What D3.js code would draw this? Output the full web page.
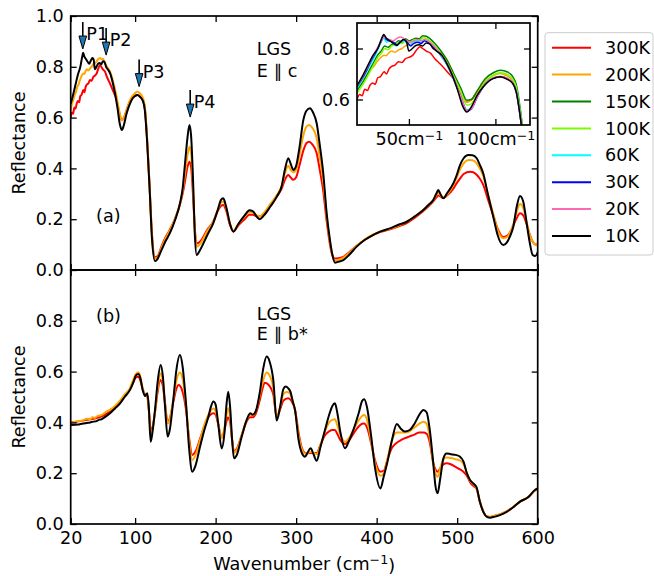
<!DOCTYPE html>
<html>
<head>
<meta charset="utf-8">
<script src="https://cdn.jsdelivr.net/npm/d3@7"></script>
<style>
  body { margin: 0; background: #fff; }
  text { font-family: "DejaVu Sans", sans-serif; fill: #000; }
</style>
</head>
<body>
<svg id="chart" width="654" height="576"></svg>
<script>
// ---- series labels and colours ----
const temps  = ["300K", "200K", "150K", "100K", "60K", "30K", "20K", "10K"];
const colors = ["#ff0000", "#ffa500", "#008000", "#7cfc00", "#00ffff", "#0000ff", "#ff69b4", "#000000"];

// ---- tick values ----
const xTicks = [20, 100, 200, 300, 400, 500, 600];
const yTicksTop = [0, 0.2, 0.4, 0.6, 0.8, 1.0];
const yTicksBot = [0, 0.2, 0.4, 0.6, 0.8];
const insetXTicks = [50, 100];
const insetYTicks = [0.6, 0.8];

// ---- phonon markers, panel (a) ----
const peakNames = ["P1", "P2", "P3", "P4"];
const peakWave  = [35, 64, 105, 168.4];
const peakTip   = [0.87, 0.846, 0.722, 0.602];

// ---- panel (a): E || c, [wavenumber, reflectance] ----
const c300 = [[20,0.60],[21.5,0.62],[23,0.615],[24.5,0.64],[26,0.635],[27.5,0.656],[29,0.665],[30.5,0.66],[32,0.685],[33.5,0.69],[35.7,0.709],[37,0.70],[38.5,0.72],[40,0.73],[42,0.735],[44,0.748],[46,0.745],[48,0.76],[50,0.765],[52.3,0.774],[54,0.79],[56.4,0.807],[58,0.80],[60,0.79],[62.6,0.781],[65,0.76],[68,0.74],[72,0.71],[77,0.669],[80,0.625],[83.3,0.59],[86,0.598],[89.5,0.63],[93.6,0.665],[98,0.682],[102.8,0.689],[106,0.683],[110,0.665],[112,0.64],[115,0.51],[118,0.33],[121,0.14],[124.7,0.05],[128,0.055],[133,0.095],[138,0.13],[143,0.158],[150,0.205],[155.7,0.258],[159,0.3],[162,0.35],[165,0.405],[167.5,0.426],[169.5,0.405],[172,0.29],[174,0.17],[177,0.105],[180,0.11],[190,0.16],[197,0.19],[203,0.235],[206.5,0.252],[209.5,0.256],[213,0.235],[218,0.175],[222,0.152],[228,0.175],[236,0.2],[242,0.218],[246,0.218],[251,0.212],[255,0.212],[260,0.222],[268,0.255],[276,0.29],[282,0.32],[286,0.355],[290.3,0.374],[293,0.365],[296.5,0.355],[300,0.365],[304,0.41],[308.9,0.47],[313,0.5],[316,0.505],[320,0.495],[325.5,0.46],[329,0.4],[333.7,0.31],[338,0.19],[342,0.1],[345,0.058],[348.2,0.045],[352,0.046],[358.6,0.052],[366,0.07],[375.2,0.095],[385,0.118],[395.8,0.138],[405,0.15],[416.5,0.16],[427,0.172],[437.3,0.185],[447,0.205],[457.9,0.232],[464,0.25],[470.3,0.27],[474,0.285],[476.5,0.293],[479,0.29],[482.7,0.283],[488,0.295],[495.2,0.32],[499,0.34],[503.5,0.36],[508,0.378],[516,0.387],[520,0.385],[524.2,0.375],[528,0.36],[532.4,0.335],[538,0.28],[544.8,0.215],[550,0.165],[557.3,0.13],[562,0.135],[566,0.15],[569.7,0.175],[574,0.205],[578,0.223],[582,0.215],[586.3,0.18],[590,0.14],[594,0.11],[597,0.1],[600,0.1]];

const c200 = [[20,0.63],[22,0.66],[23.5,0.672],[25,0.69],[26.5,0.70],[28,0.72],[29.5,0.728],[31.6,0.748],[33,0.76],[35.7,0.774],[37,0.772],[38,0.78],[40,0.79],[42,0.785],[44,0.794],[46,0.80],[48,0.81],[50,0.814],[52,0.82],[54,0.83],[56.4,0.835],[58,0.83],[60,0.832],[62,0.82],[65,0.80],[68.8,0.781],[72,0.75],[77,0.682],[80,0.63],[83.3,0.59],[86,0.598],[89.5,0.63],[93.6,0.669],[98,0.69],[102.8,0.702],[106,0.695],[110,0.675],[112,0.645],[115,0.51],[118,0.33],[121,0.13],[124.7,0.045],[128,0.05],[133,0.09],[138,0.125],[143,0.155],[150,0.205],[155.7,0.262],[159,0.31],[162,0.38],[165,0.45],[167.5,0.485],[169.5,0.46],[172,0.32],[174,0.17],[176.5,0.092],[180,0.1],[190,0.155],[197,0.19],[203,0.24],[206.5,0.265],[209.5,0.27],[213,0.245],[218,0.18],[222,0.155],[228,0.18],[236,0.21],[242,0.228],[246,0.226],[251,0.215],[255,0.212],[260,0.225],[268,0.26],[276,0.295],[282,0.33],[286,0.38],[290.3,0.41],[293,0.395],[296.5,0.385],[300,0.395],[304,0.45],[308.9,0.53],[313,0.565],[316,0.571],[320,0.56],[325.5,0.52],[329,0.45],[333.7,0.35],[338,0.21],[342,0.11],[345,0.06],[348.2,0.038],[352,0.04],[358.6,0.048],[366,0.068],[375.2,0.095],[385,0.12],[395.8,0.14],[405,0.152],[416.5,0.162],[427,0.175],[437.3,0.19],[447,0.21],[457.9,0.236],[464,0.255],[470.3,0.275],[474,0.295],[476.5,0.305],[479,0.295],[482.7,0.285],[488,0.3],[495.2,0.335],[499,0.36],[503.5,0.395],[508,0.42],[514,0.433],[519,0.432],[524.2,0.42],[528,0.4],[532.4,0.37],[538,0.3],[544.8,0.22],[550,0.16],[557.3,0.125],[562,0.13],[566,0.15],[569.7,0.18],[574,0.23],[578,0.26],[582,0.245],[586.3,0.19],[590,0.14],[594,0.11],[597,0.1],[600,0.105]];

const c10 = [[20,0.655],[23,0.69],[26,0.73],[29,0.77],[32,0.80],[34,0.835],[35.5,0.855],[37,0.84],[39,0.83],[41,0.82],[43,0.812],[45,0.825],[47,0.835],[48.5,0.828],[50,0.79],[52,0.80],[54,0.812],[56,0.815],[58,0.81],[60,0.822],[62,0.818],[64,0.80],[66,0.79],[69,0.774],[72,0.74],[75,0.696],[78,0.64],[81,0.575],[83.5,0.551],[86,0.57],[89.5,0.617],[93,0.65],[97,0.676],[100,0.685],[103,0.689],[106,0.682],[110,0.663],[112,0.63],[115,0.50],[118,0.32],[121,0.12],[124.7,0.035],[127,0.04],[133,0.08],[138,0.115],[143,0.144],[150,0.2],[155.7,0.262],[159,0.32],[162,0.42],[165,0.52],[167.5,0.571],[169.5,0.53],[172,0.35],[174,0.15],[176.5,0.059],[180,0.075],[190,0.14],[197,0.184],[203,0.24],[206.5,0.275],[209.5,0.282],[213,0.25],[218,0.18],[222,0.151],[228,0.18],[236,0.215],[242,0.235],[246,0.232],[251,0.21],[255,0.2],[260,0.215],[268,0.25],[276,0.289],[282,0.33],[286,0.395],[290.3,0.44],[293,0.42],[296.5,0.394],[300,0.41],[304,0.48],[308.9,0.59],[313,0.628],[317.2,0.637],[321,0.62],[325.5,0.578],[329,0.5],[333.7,0.38],[338,0.22],[342,0.118],[345,0.06],[348.2,0.029],[352,0.032],[358.6,0.039],[366,0.06],[375.2,0.092],[385,0.118],[395.8,0.138],[405,0.152],[416.5,0.164],[427,0.178],[437.3,0.19],[447,0.21],[457.9,0.236],[464,0.255],[470.3,0.276],[474,0.3],[476.5,0.315],[479,0.3],[482.7,0.282],[488,0.305],[495.2,0.341],[499,0.37],[503.5,0.413],[508,0.44],[513.8,0.453],[519,0.452],[524.2,0.44],[528,0.415],[532.4,0.38],[538,0.3],[544.8,0.21],[550,0.14],[557.3,0.098],[562,0.11],[566,0.135],[569.7,0.17],[574,0.25],[578,0.291],[582,0.27],[586.3,0.184],[590,0.11],[593.8,0.059],[597,0.055],[600,0.07]];

// ---- intermediate temperatures, far-IR range (inset) ----
const c150 = [[20,0.635],[22,0.655],[24,0.675],[26,0.7],[28,0.725],[30,0.75],[32,0.775],[34,0.79],[36,0.81],[38,0.805],[40,0.815],[42,0.82],[44,0.83],[46,0.825],[48,0.838],[50,0.83],[52,0.835],[54,0.84],[56,0.838],[58,0.85],[60,0.848],[62,0.84],[65,0.82],[68,0.795],[72,0.755],[76,0.7],[80,0.645],[83.5,0.597],[86,0.6],[89.5,0.635],[94,0.68],[99,0.706],[103,0.715],[107,0.708],[110,0.69],[112,0.66],[115,0.53],[118,0.34],[120,0.2]];
const c100 = [[20,0.625],[22,0.645],[24,0.665],[26,0.69],[28,0.715],[30,0.74],[32,0.765],[34,0.78],[36,0.8],[38,0.795],[40,0.81],[42,0.815],[44,0.825],[46,0.82],[48,0.83],[50,0.822],[52,0.83],[54,0.835],[56,0.83],[58,0.842],[60,0.84],[62,0.83],[65,0.81],[68,0.785],[72,0.745],[76,0.69],[80,0.63],[83.5,0.578],[86,0.583],[89.5,0.62],[94,0.668],[99,0.697],[103,0.705],[107,0.698],[110,0.68],[112,0.65],[115,0.52],[118,0.34],[120,0.2]];
const c60 = [[20,0.645],[22,0.665],[24,0.69],[26,0.715],[28,0.74],[30,0.765],[32,0.795],[34,0.825],[35.5,0.84],[37,0.825],[39,0.83],[41,0.82],[43,0.81],[45,0.825],[47,0.83],[49,0.82],[51,0.815],[53,0.825],[55,0.83],[57,0.825],[59,0.83],[62,0.82],[65,0.8],[68,0.775],[72,0.735],[76,0.675],[80,0.61],[83.5,0.56],[86,0.565],[89.5,0.61],[94,0.66],[99,0.685],[103,0.69],[107,0.683],[110,0.665],[112,0.635],[115,0.505],[118,0.33],[120,0.2]];
const c30 = [[20,0.65],[22,0.672],[24,0.695],[26,0.72],[28,0.75],[30,0.775],[32,0.8],[34,0.83],[35.5,0.85],[37,0.835],[39,0.83],[41,0.825],[43,0.815],[45,0.825],[47,0.835],[49,0.825],[51,0.81],[53,0.82],[55,0.825],[57,0.82],[59,0.83],[62,0.82],[65,0.8],[68,0.778],[72,0.74],[76,0.68],[80,0.61],[83.5,0.555],[86,0.562],[89.5,0.61],[94,0.66],[99,0.684],[103,0.689],[107,0.682],[110,0.664],[112,0.632],[115,0.5],[118,0.33],[120,0.2]];
const c20 = [[20,0.655],[22,0.675],[24,0.7],[26,0.725],[28,0.755],[30,0.78],[32,0.805],[34,0.83],[35.5,0.845],[37,0.84],[39,0.835],[41,0.83],[43,0.84],[45,0.845],[47,0.84],[49,0.83],[51,0.825],[53,0.83],[55,0.835],[57,0.83],[59,0.835],[62,0.825],[65,0.805],[68,0.78],[72,0.74],[76,0.68],[80,0.612],[83.5,0.557],[86,0.563],[89.5,0.61],[94,0.66],[99,0.685],[103,0.69],[107,0.683],[110,0.665],[112,0.633],[115,0.5],[118,0.33],[120,0.2]];

// ---- panel (b): E || b*, [wavenumber, reflectance] ----
const b300 = [[20,0.40],[25,0.402],[30,0.404],[35,0.407],[40,0.41],[45,0.412],[50,0.415],[55,0.42],[60,0.426],[65,0.435],[70,0.445],[75,0.46],[81,0.48],[87,0.505],[93.6,0.53],[98,0.56],[101,0.577],[104,0.58],[106.5,0.565],[109.4,0.53],[112.3,0.51],[115.2,0.5],[117,0.45],[119.3,0.37],[121.5,0.38],[124.7,0.44],[128,0.52],[131,0.567],[134,0.55],[137,0.48],[140.4,0.402],[143,0.415],[147.4,0.48],[151,0.53],[154,0.547],[158,0.53],[163.2,0.45],[167,0.34],[171,0.272],[175,0.285],[180.6,0.335],[186,0.385],[191,0.42],[197.2,0.436],[200,0.43],[203,0.395],[207.5,0.34],[211,0.37],[213.5,0.405],[215,0.419],[218,0.4],[220.5,0.33],[222.8,0.286],[226,0.295],[232.4,0.35],[238,0.4],[243,0.42],[246,0.42],[250,0.435],[255,0.49],[258,0.53],[261,0.556],[265,0.55],[271.6,0.51],[275.8,0.42],[280,0.45],[284,0.485],[290,0.495],[294,0.485],[298.6,0.45],[303,0.36],[307,0.3],[311,0.28],[314,0.278],[318,0.28],[321.5,0.28],[325.5,0.28],[330,0.31],[335.8,0.35],[341,0.365],[345,0.37],[348.2,0.37],[351,0.355],[355,0.33],[360.7,0.315],[366,0.33],[371,0.355],[378,0.385],[382,0.395],[384.6,0.396],[388,0.38],[393,0.32],[398,0.25],[404.7,0.206],[409,0.21],[413,0.25],[419,0.3],[425,0.32],[430,0.33],[435,0.338],[441,0.345],[447,0.352],[453,0.36],[458,0.36],[462,0.355],[466,0.32],[470.3,0.24],[473,0.215],[475.7,0.206],[479,0.22],[483,0.235],[486.8,0.239],[492,0.235],[498,0.225],[503.5,0.215],[508,0.205],[512,0.19],[516,0.165],[520,0.15],[524,0.14],[528,0.09],[532.4,0.05],[537,0.03],[540.8,0.028],[546,0.032],[553,0.038],[561.5,0.05],[570,0.068],[578,0.088],[588,0.105],[596.6,0.132],[600,0.138]];

const b200 = [[20,0.40],[25,0.402],[30,0.405],[35,0.408],[40,0.414],[44,0.412],[47,0.42],[50,0.418],[53,0.425],[57,0.428],[60,0.432],[63,0.44],[66,0.445],[69,0.45],[75,0.465],[81,0.485],[87,0.51],[93.6,0.535],[98,0.57],[101,0.59],[104,0.597],[106.5,0.58],[109.4,0.535],[112.3,0.51],[115.2,0.505],[117,0.45],[119.3,0.357],[121.5,0.37],[124.7,0.44],[128,0.535],[131.7,0.593],[134.5,0.56],[137,0.48],[140.4,0.396],[143,0.41],[147.4,0.49],[151,0.56],[155.7,0.596],[159,0.57],[163.2,0.47],[167,0.33],[171,0.252],[175,0.27],[180.6,0.33],[186,0.39],[191,0.43],[197.2,0.455],[200,0.445],[203,0.4],[207.5,0.337],[211,0.38],[213.5,0.43],[215.7,0.456],[218,0.42],[220.5,0.33],[222.8,0.281],[226,0.29],[232.4,0.35],[238,0.405],[243,0.43],[246,0.428],[250,0.445],[255,0.51],[259,0.565],[263.4,0.596],[267,0.585],[271.6,0.535],[275.8,0.42],[280,0.46],[284,0.51],[288,0.52],[292,0.515],[296,0.48],[298.6,0.45],[303,0.35],[307,0.295],[311,0.278],[314,0.28],[318,0.283],[321.5,0.28],[325.5,0.275],[330,0.31],[335.8,0.365],[341,0.4],[345,0.41],[348.2,0.412],[351,0.39],[355,0.35],[360.7,0.324],[366,0.34],[371,0.37],[378,0.41],[382,0.425],[384.6,0.429],[388,0.41],[393,0.33],[398,0.24],[404.7,0.19],[409,0.2],[413,0.25],[419,0.33],[425,0.36],[430,0.36],[435,0.36],[441,0.365],[447,0.38],[453,0.395],[458,0.403],[462,0.395],[466,0.34],[470.3,0.24],[473,0.2],[475.7,0.186],[479,0.22],[483,0.255],[486.8,0.262],[492,0.26],[498,0.255],[503.5,0.25],[508,0.235],[512,0.2],[516,0.17],[520,0.158],[524,0.14],[528,0.09],[532.4,0.05],[537,0.03],[540.8,0.028],[546,0.032],[553,0.038],[561.5,0.05],[570,0.068],[578,0.088],[588,0.105],[596.6,0.132],[600,0.138]];

const b10 = [[20,0.39],[30,0.392],[40,0.398],[44,0.40],[48,0.403],[52,0.405],[55,0.41],[58,0.412],[62,0.42],[68.8,0.436],[75,0.455],[81.3,0.475],[87,0.5],[93.6,0.528],[98,0.56],[101,0.585],[104,0.591],[106.5,0.575],[109.4,0.528],[112.3,0.504],[115.2,0.515],[117,0.46],[119.3,0.324],[121.5,0.36],[124.7,0.449],[128,0.56],[131.7,0.626],[134.5,0.58],[137,0.47],[140.4,0.344],[143,0.37],[147.4,0.488],[151,0.6],[155.7,0.665],[159,0.62],[163.2,0.475],[167,0.3],[171,0.206],[175,0.23],[180.6,0.304],[186,0.37],[191,0.422],[194,0.46],[197.2,0.482],[200,0.47],[203,0.4],[207.5,0.298],[211,0.36],[213.5,0.47],[215.7,0.521],[218,0.46],[220.5,0.33],[222.8,0.259],[226,0.27],[232.4,0.344],[238,0.405],[243,0.436],[246,0.43],[250,0.445],[255,0.521],[259,0.61],[263.4,0.659],[267,0.64],[271.6,0.567],[275.8,0.407],[280,0.46],[284,0.53],[287,0.541],[290,0.535],[293,0.52],[296,0.48],[298.6,0.449],[303,0.331],[307,0.28],[311,0.265],[314,0.28],[318,0.298],[321.5,0.275],[325.5,0.249],[330,0.3],[335.8,0.37],[341,0.43],[345,0.465],[348.2,0.475],[351,0.44],[355,0.36],[360.7,0.298],[366,0.33],[371,0.37],[378,0.44],[382,0.485],[384.6,0.491],[388,0.46],[393,0.35],[398,0.22],[404.7,0.14],[409,0.19],[413,0.239],[419,0.33],[425,0.394],[430,0.375],[435,0.364],[441,0.37],[447,0.395],[453,0.43],[458,0.449],[462,0.44],[466,0.37],[470.3,0.239],[473,0.15],[475.7,0.121],[479,0.18],[483,0.26],[486.8,0.278],[492,0.275],[498,0.272],[503.5,0.265],[508,0.245],[512,0.2],[516,0.173],[520,0.16],[524,0.145],[528,0.09],[532.4,0.048],[537,0.028],[540.8,0.025],[546,0.028],[553,0.035],[561.5,0.048],[570,0.067],[578,0.088],[588,0.105],[596.6,0.134],[600,0.14]];

// ---- annotations ----
const panelTags = ["(a)", "(b)"];
const sampleName = "LGS";
const polarA = "E ∥ c";
const polarB = "E ∥ b*";

// ---------------------------------------------------------------
const svg = d3.select("#chart");
const FS = 17.6;
const LW = 2;
const L = 70.7, R = 537.7;
const x = d3.scaleLinear().domain([20, 600]).range([L, R]);
const yA = d3.scaleLinear().domain([0, 1]).range([270, 16]);
const yB = d3.scaleLinear().domain([0, 1]).range([524, 270]);

const defs = svg.append("defs");
function clip(id, x0, y0, w, h) {
  defs.append("clipPath").attr("id", id).append("rect")
    .attr("x", x0).attr("y", y0).attr("width", w).attr("height", h);
}
clip("clipA", L, 16, R - L, 254);
clip("clipB", L, 270, R - L, 254);

function lineGen(xs, ys) {
  return d3.line().x(d => xs(d[0])).y(d => ys(d[1])).curve(d3.curveMonotoneX);
}

function styleAxis(g, size) {
  g.select(".domain").remove();
  g.selectAll(".tick line").attr("stroke", "#000").attr("stroke-width", 1.3);
  g.selectAll(".tick text").style("font-size", size + "px").attr("fill", "#000")
    .style("font-family", "DejaVu Sans, sans-serif");
}

function panelAxes(ys, yTicks, yBottom, yTopPx, labelX) {
  const fmt = d3.format(".1f");
  const gl = svg.append("g").attr("transform", `translate(${L},0)`)
    .call(d3.axisLeft(ys).tickValues(yTicks).tickFormat(fmt).tickSize(-6).tickPadding(7));
  styleAxis(gl, FS);
  const gr = svg.append("g").attr("transform", `translate(${R},0)`)
    .call(d3.axisRight(ys).tickValues(yTicks).tickFormat("").tickSize(-6));
  styleAxis(gr, FS);
  const gb = svg.append("g").attr("transform", `translate(0,${yBottom})`)
    .call(d3.axisBottom(x).tickValues(xTicks).tickFormat(labelX ? d3.format("d") : "").tickSize(-6).tickPadding(8));
  styleAxis(gb, FS);
  const gt = svg.append("g").attr("transform", `translate(0,${yTopPx})`)
    .call(d3.axisTop(x).tickValues(xTicks).tickFormat("").tickSize(-6));
  styleAxis(gt, FS);
  svg.append("rect").attr("x", L).attr("y", yTopPx).attr("width", R - L).attr("height", yBottom - yTopPx)
    .attr("fill", "none").attr("stroke", "#000").attr("stroke-width", 1.7);
}

// ---- panel (a) curves ----
const gA = svg.append("g").attr("clip-path", "url(#clipA)");
[[c300, 0], [c200, 1], [c10, 7]].forEach(([d, i]) => {
  gA.append("path").datum(d).attr("d", lineGen(x, yA))
    .attr("fill", "none").attr("stroke", colors[i]).attr("stroke-width", LW).attr("stroke-linejoin", "round");
});

// ---- panel (b) curves ----
const gB = svg.append("g").attr("clip-path", "url(#clipB)");
[[b300, 0], [b200, 1], [b10, 7]].forEach(([d, i]) => {
  gB.append("path").datum(d).attr("d", lineGen(x, yB))
    .attr("fill", "none").attr("stroke", colors[i]).attr("stroke-width", LW).attr("stroke-linejoin", "round");
});

panelAxes(yA, yTicksTop, 270, 16, false);
panelAxes(yB, yTicksBot, 524, 270, true);

// ---- phonon markers P1..P4 ----
peakNames.forEach((name, i) => {
  const px = x(peakWave[i]), tip = yA(peakTip[i]);
  svg.append("line").attr("x1", px).attr("x2", px).attr("y1", tip - 27).attr("y2", tip - 6)
    .attr("stroke", "#000").attr("stroke-width", 1.6);
  svg.append("path")
    .attr("d", `M${px - 3.8},${tip - 13} L${px + 3.8},${tip - 13} L${px},${tip} Z`)
    .attr("fill", "#1f77b4").attr("stroke", "#000").attr("stroke-width", 1);
  svg.append("text").attr("x", px + 3.5).attr("y", tip - 9).style("font-size", FS + "px").text(name);
});

// ---- panel annotations ----
function note(xv, yPx, str) {
  svg.append("text").attr("x", x(xv)).attr("y", yPx).style("font-size", FS + "px").text(str);
}
note(51.5, yA(0.19), panelTags[0]);
note(251, yA(0.846), sampleName);
note(251, yA(0.76), polarA);
note(51.5, yB(0.795), panelTags[1]);
note(251, yB(0.803), sampleName);
note(251, yB(0.724), polarB);

// ---- axis titles ----
svg.append("text").attr("transform", `translate(25,${(16 + 270) / 2}) rotate(-90)`)
  .attr("text-anchor", "middle").style("font-size", FS + "px").text("Reflectance");
svg.append("text").attr("transform", `translate(25,${(270 + 524) / 2}) rotate(-90)`)
  .attr("text-anchor", "middle").style("font-size", FS + "px").text("Reflectance");

function cmLabel(sel, pre) {
  sel.text(null);
  sel.append("tspan").text(pre + "cm");
  sel.append("tspan").attr("dy", "-0.45em").style("font-size", "0.72em").text("−1");
}
const xt = svg.append("text").attr("x", (L + R) / 2).attr("y", 570)
  .attr("text-anchor", "middle").style("font-size", FS + "px");
xt.append("tspan").text("Wavenumber (cm");
xt.append("tspan").attr("dy", "-0.45em").style("font-size", "0.72em").text("−1");
xt.append("tspan").attr("dy", "0.45em").text(")");

// ---- inset: far-IR detail of E || c for all temperatures ----
const iL = 357, iR = 530, iT = 23, iB = 125;
const xi = d3.scaleLinear().domain([20, 120]).range([iL, iR]);
const yi = d3.scaleLinear().domain([0.5, 0.9]).range([iB, iT]);
clip("clipI", iL, iT, iR - iL, iB - iT);
svg.append("rect").attr("x", iL).attr("y", iT).attr("width", iR - iL).attr("height", iB - iT).attr("fill", "#fff");
const gI = svg.append("g").attr("clip-path", "url(#clipI)");
[c300, c200, c150, c100, c60, c30, c20, c10].forEach((d, i) => {
  gI.append("path").datum(d.filter(p => p[0] <= 124)).attr("d", lineGen(xi, yi))
    .attr("fill", "none").attr("stroke", colors[i]).attr("stroke-width", 1.5).attr("stroke-linejoin", "round");
});
const gil = svg.append("g").attr("transform", `translate(${iL},0)`)
  .call(d3.axisLeft(yi).tickValues(insetYTicks).tickFormat(d3.format(".1f")).tickSize(-6).tickPadding(7));
styleAxis(gil, FS);
const gir = svg.append("g").attr("transform", `translate(${iR},0)`)
  .call(d3.axisRight(yi).tickValues(insetYTicks).tickFormat("").tickSize(-6));
styleAxis(gir, FS);
const gib = svg.append("g").attr("transform", `translate(0,${iB})`)
  .call(d3.axisBottom(xi).tickValues(insetXTicks).tickSize(-6).tickPadding(8));
styleAxis(gib, FS);
gib.selectAll(".tick text").each(function (d) { cmLabel(d3.select(this), String(d)); });
const git = svg.append("g").attr("transform", `translate(0,${iT})`)
  .call(d3.axisTop(xi).tickValues(insetXTicks).tickFormat("").tickSize(-6));
styleAxis(git, FS);
svg.append("rect").attr("x", iL).attr("y", iT).attr("width", iR - iL).attr("height", iB - iT)
  .attr("fill", "none").attr("stroke", "#000").attr("stroke-width", 1.7);

// ---- legend ----
const lg = svg.append("g").attr("transform", "translate(545,32.7)");
lg.append("rect").attr("width", 108).attr("height", 222.3).attr("rx", 3)
  .attr("fill", "#fff").attr("fill-opacity", 0.8).attr("stroke", "#cccccc").attr("stroke-width", 1);
temps.forEach((t, i) => {
  const cy = 15 + i * 26.9;
  lg.append("line").attr("x1", 7).attr("x2", 46).attr("y1", cy).attr("y2", cy)
    .attr("stroke", colors[i]).attr("stroke-width", 2);
  lg.append("text").attr("x", 60).attr("y", cy).attr("dy", "0.35em").style("font-size", FS + "px").text(t);
});
</script>
</body>
</html>
